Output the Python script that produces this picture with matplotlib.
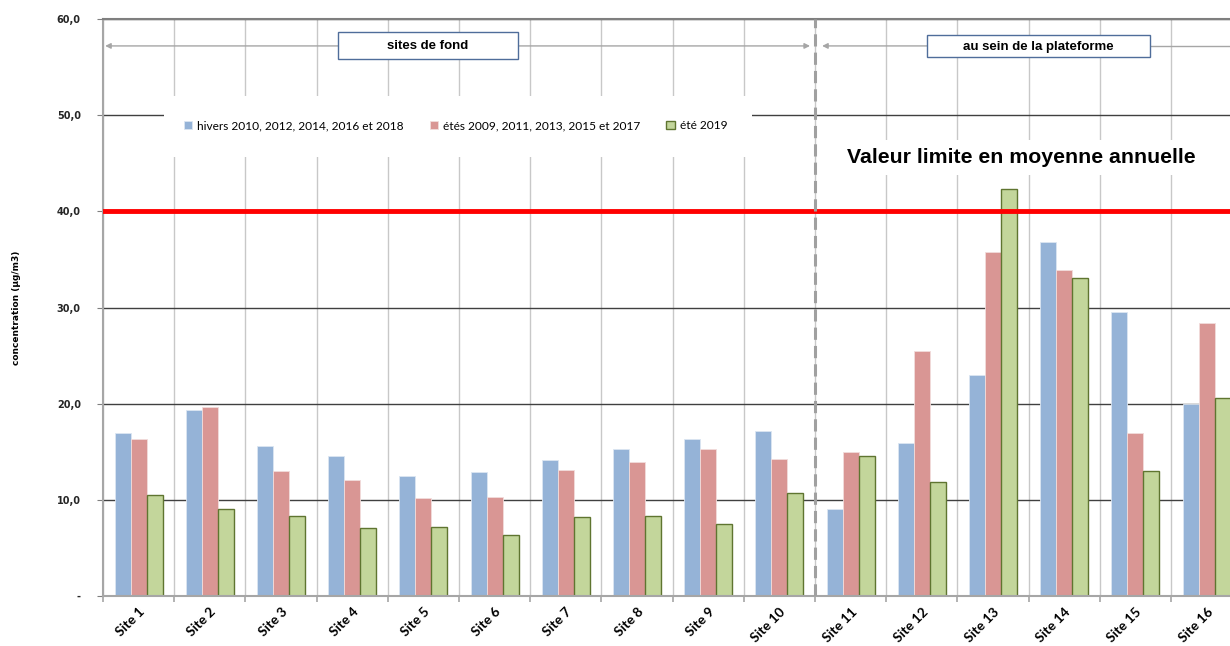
import numpy as np
import matplotlib.pyplot as plt
from matplotlib.patches import Rectangle

# Données
sites = ["Site %d" % i for i in range(1, 17)]
hivers = [17.0, 19.3, 15.6, 14.6, 12.5, 12.9, 14.1, 15.3, 16.3, 17.2, 9.0, 15.9, 23.0, 36.8, 29.5, 20.0]
etes = [16.3, 19.7, 13.0, 12.1, 10.2, 10.3, 13.1, 13.9, 15.3, 14.2, 15.0, 25.5, 35.8, 33.9, 17.0, 28.4]
ete_2019 = [10.5, 9.0, 8.3, 7.1, 7.2, 6.3, 8.2, 8.3, 7.5, 10.7, 14.6, 11.9, 42.3, 33.1, 13.0, 20.6]
noms_series = ["hivers 2010, 2012, 2014, 2016 et 2018",
               "étés 2009, 2011, 2013, 2015 et 2017",
               "été 2019"]
valeur_limite = 40
y_ticks = [0, 10, 20, 30, 40, 50, 60]
y_labels = ["-", "10,0", "20,0", "30,0", "40,0", "50,0", "60,0"]

fig = plt.figure(figsize=(12.3, 6.46), dpi=100)
ax = fig.add_axes([103 / 1230, 1 - 596 / 646, 16 * 71.2 / 1230, 577 / 646])

x = np.arange(len(sites))
w = 0.225
ax.bar(x - w, hivers, w, color="#95b3d7", edgecolor="#dce6f2", linewidth=0.6, label=noms_series[0], zorder=2)
ax.bar(x, etes, w, color="#d99694", edgecolor="#f2dcdb", linewidth=0.6, label=noms_series[1], zorder=2)
ax.bar(x + w, ete_2019, w, color="#c3d69b", edgecolor="#5f7530", linewidth=1.0, label=noms_series[2], zorder=2)

ax.set_xlim(-0.5, len(sites) - 0.5)
ax.set_ylim(0, 60)

# axes et grilles
ax.set_yticks(y_ticks)
ax.set_yticklabels(y_labels, fontsize=7, fontweight="bold", color="#262626", family="DejaVu Sans")
ax.set_xticks(x)
ax.set_xticklabels(sites, rotation=45, ha="right", rotation_mode="anchor",
                   fontsize=9.8, fontweight="bold", family="Lato")
ax.set_xticks(np.arange(-0.5, len(sites), 1), minor=True)
ax.tick_params(axis="x", which="major", length=0, pad=7)
ax.tick_params(axis="x", which="minor", length=4, color="#a6a6a6", width=1.2)
ax.tick_params(axis="y", length=4, color="#7f7f7f", pad=12)
ax.grid(axis="y", which="major", color="#404040", linewidth=1.0, zorder=0.5)
ax.grid(axis="x", which="minor", color="#c8c8c8", linewidth=1.0, zorder=0.5)
ax.set_axisbelow(True)
for s in ["left", "bottom"]:
    ax.spines[s].set_color("#a6a6a6")
    ax.spines[s].set_linewidth(1.5)
ax.spines["top"].set_color("#7f7f7f")
ax.spines["top"].set_linewidth(1.5)
ax.spines["right"].set_visible(False)

ax.set_ylabel("concentration (µg/m3)", fontsize=6.5, fontweight="bold", family="DejaVu Sans")
ax.yaxis.set_label_coords(-0.072, 0.5)

# valeur limite
ax.axhline(valeur_limite, color="#ff0000", linewidth=3.5, zorder=3)
ax.text(12.4, 45.6, "Valeur limite en moyenne annuelle", ha="center", va="center",
        fontsize=15.3, fontweight="bold", family="Liberation Sans", zorder=1,
        bbox=dict(facecolor="white", edgecolor="none", pad=6))

# séparation sites de fond / plateforme
ax.axvline(9.5, color="#a0a0a0", linewidth=2.2, linestyle=(0, (4, 2)), zorder=3)

# flèches et cadres
fl = dict(arrowstyle="-|>", color="#a6a6a6", lw=1.0, mutation_scale=8, shrinkA=0, shrinkB=0)
ax.annotate("", xy=(-0.47, 57.2), xytext=(2.8, 57.2), arrowprops=fl)
ax.annotate("", xy=(9.43, 57.2), xytext=(5.33, 57.2), arrowprops=fl)
ax.annotate("", xy=(9.6, 57.2), xytext=(11.07, 57.2), arrowprops=fl)
ax.plot([14.2, 15.5], [57.2, 57.2], color="#a6a6a6", lw=1.0)
ax.add_patch(Rectangle((2.8, 55.8), 2.53, 2.9, facecolor="white", edgecolor="#4f6d9a", lw=1.0, zorder=4))
ax.text(4.06, 57.15, "sites de fond", ha="center", va="center", fontsize=9.5,
        fontweight="bold", family="Liberation Sans", zorder=5)
ax.add_patch(Rectangle((11.07, 56.0), 3.13, 2.3, facecolor="white", edgecolor="#4f6d9a", lw=1.0, zorder=4))
ax.text(12.63, 57.05, "au sein de la plateforme", ha="center", va="center", fontsize=9.5,
        fontweight="bold", family="Liberation Sans", zorder=5)

# légende
ax.add_patch(Rectangle((0.36, 45.7), 8.26, 6.3, facecolor="white", edgecolor="none", zorder=0.8))
ax.legend(loc="center", bbox_to_anchor=(4.45, 48.9), bbox_transform=ax.transData, ncol=3,
          frameon=False, prop={"family": "Lato", "size": 8.6},
          handlelength=0.7, handleheight=0.7, handletextpad=0.4, columnspacing=2.2)

fig.savefig("out.png", dpi=100)
